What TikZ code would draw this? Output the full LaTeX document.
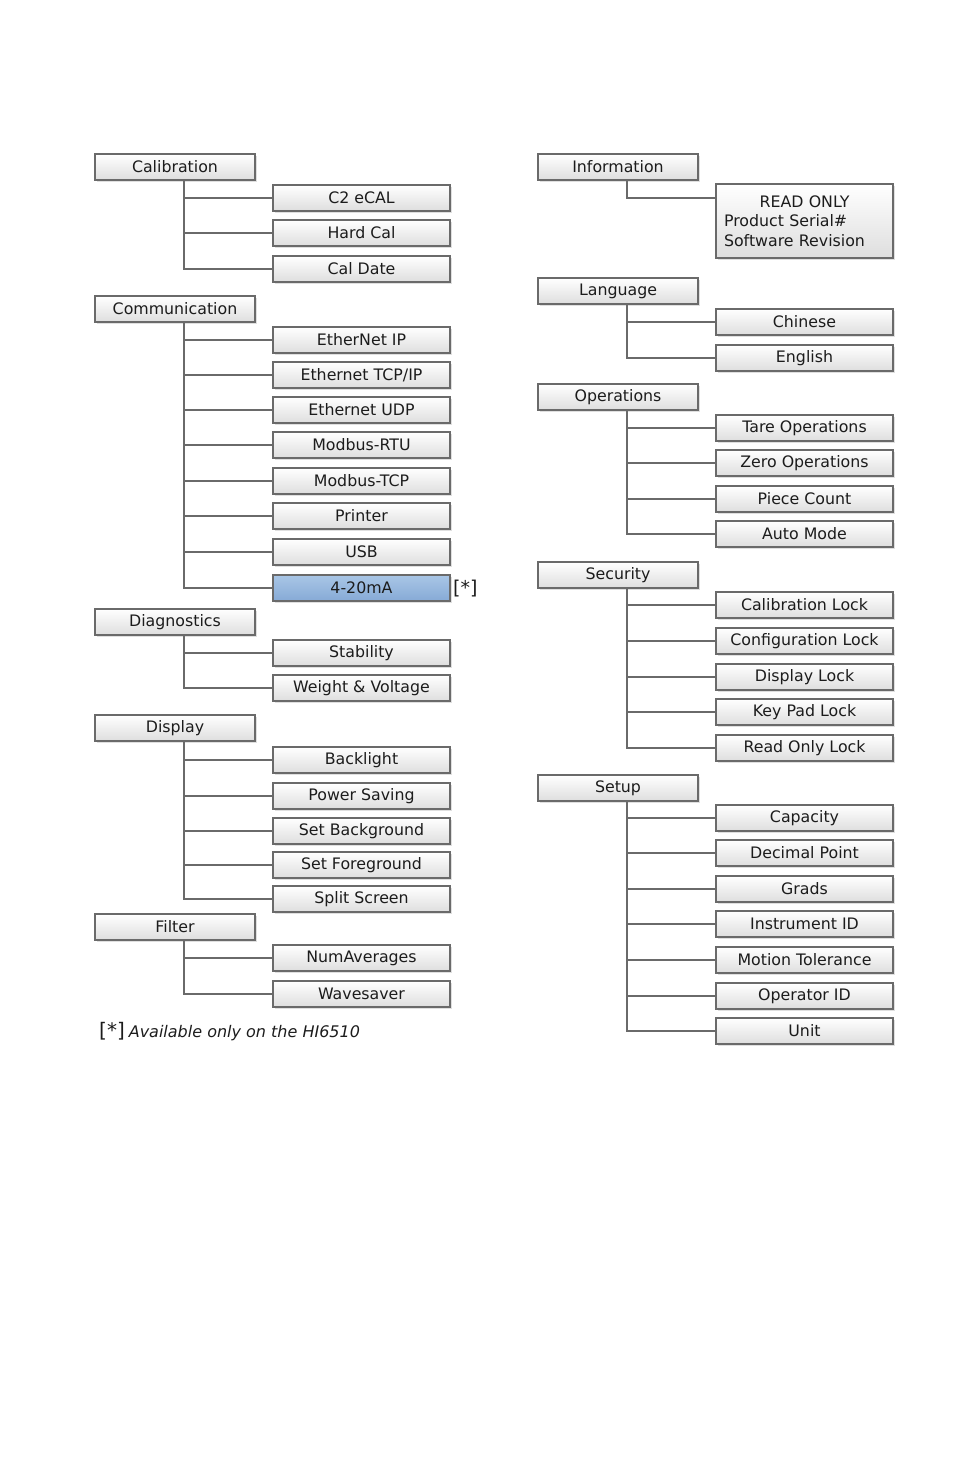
\documentclass[tikz,border=0pt]{standalone}
\usepackage{fontspec}
\setmainfont{DejaVu Sans}
\usetikzlibrary{shadows}
\definecolor{edge}{HTML}{6A6A6A}
\definecolor{txt}{HTML}{1C1C1C}
\definecolor{hltop}{HTML}{A9C6E6}
\definecolor{hlbot}{HTML}{86AAD6}
\tikzset{
  box/.style={draw=edge, line width=1.1pt, top color=white, bottom color=black!13,
    drop shadow={shadow xshift=1.6pt, shadow yshift=-1.6pt, opacity=0.25},
    inner sep=0pt, minimum height=26pt, font=\fontsize{15.8}{18}\selectfont, text=txt},
  parent/.style={box, minimum width=160pt},
  child/.style={box, minimum width=177pt},
  hl/.style={top color=hltop, bottom color=hlbot},
  link/.style={draw=edge, line width=1.1pt}
}
\begin{document}
\begin{tikzpicture}[x=1pt,y=-1pt]
\path[use as bounding box] (0,0) rectangle (954,1474);
\coordinate (tL) at (184,0);
\coordinate (tR) at (627,0);

% ---------- left column ----------
\node[parent] (cal) at (175,167) {Calibration};
\foreach \n/\y/\t in {c1/198/C2 eCAL, c2/233/Hard Cal, c3/269/Cal Date}
  {\node[child] (\n) at (361.5,\y) {\t};
   \draw[link] (cal.south -| tL) |- (\n.west);}

\node[parent] (com) at (175,309) {Communication};
\foreach \n/\y/\t in {m1/340/EtherNet IP, m2/375/{Ethernet TCP/IP}, m3/410/Ethernet UDP, m4/445/Modbus-RTU, m5/481/Modbus-TCP, m6/516/Printer, m7/552/USB}
  {\node[child] (\n) at (361.5,\y) {\t};
   \draw[link] (com.south -| tL) |- (\n.west);}
\node[child, hl] (m8) at (361.5,588) {4-20mA};
\draw[link] (com.south -| tL) |- (m8.west);
\node[anchor=west, inner sep=0pt, font=\fontsize{19}{21}\selectfont, text=txt] (star) at (453,589) {[*]};

\node[parent] (dia) at (175,622) {Diagnostics};
\foreach \n/\y/\t in {d1/653/Stability, d2/688/Weight \& Voltage}
  {\node[child] (\n) at (361.5,\y) {\t};
   \draw[link] (dia.south -| tL) |- (\n.west);}

\node[parent] (dis) at (175,728) {Display};
\foreach \n/\y/\t in {s1/760/Backlight, s2/796/Power Saving, s3/831/Set Background, s4/865/Set Foreground, s5/899/Split Screen}
  {\node[child] (\n) at (361.5,\y) {\t};
   \draw[link] (dis.south -| tL) |- (\n.west);}

\node[parent] (fil) at (175,927) {Filter};
\foreach \n/\y/\t in {f1/958/NumAverages, f2/994/Wavesaver}
  {\node[child] (\n) at (361.5,\y) {\t};
   \draw[link] (fil.south -| tL) |- (\n.west);}

\node[anchor=west, inner sep=0pt, text=txt] (note) at (99,1032)
  {{\fontsize{20}{22}\selectfont [*]}\hspace{4pt}{\fontsize{16}{18}\selectfont\itshape Available only on the HI6510}};

% ---------- right column ----------
\node[parent] (inf) at (618,167) {Information};
\node[box, minimum width=177pt, minimum height=74pt, text width=161pt, align=left, inner xsep=8pt, font=\fontsize{15.8}{19.5}\selectfont] (ro) at (804.5,221)
  {\makebox[161pt]{READ ONLY}\\Product Serial\#\\Software Revision};
\coordinate (roj) at (716,198);
\draw[link] (inf.south -| tR) |- (roj);

\node[parent] (lan) at (618,291) {Language};
\foreach \n/\y/\t in {l1/322/Chinese, l2/358/English}
  {\node[child] (\n) at (804.5,\y) {\t};
   \draw[link] (lan.south -| tR) |- (\n.west);}

\node[parent] (ope) at (618,397) {Operations};
\foreach \n/\y/\t in {o1/428/Tare Operations, o2/463/Zero Operations, o3/499/Piece Count, o4/534/Auto Mode}
  {\node[child] (\n) at (804.5,\y) {\t};
   \draw[link] (ope.south -| tR) |- (\n.west);}

\node[parent] (sec) at (618,575) {Security};
\foreach \n/\y/\t in {k1/605/Calibration Lock, k2/641/Configuration Lock, k3/677/Display Lock, k4/712/Key Pad Lock, k5/748/Read Only Lock}
  {\node[child] (\n) at (804.5,\y) {\t};
   \draw[link] (sec.south -| tR) |- (\n.west);}

\node[parent] (set) at (618,788) {Setup};
\foreach \n/\y/\t in {u1/818/Capacity, u2/853/Decimal Point, u3/889/Grads, u4/924/Instrument ID, u5/960/Motion Tolerance, u6/996/Operator ID, u7/1031/Unit}
  {\node[child] (\n) at (804.5,\y) {\t};
   \draw[link] (set.south -| tR) |- (\n.west);}
\end{tikzpicture}
\end{document}
